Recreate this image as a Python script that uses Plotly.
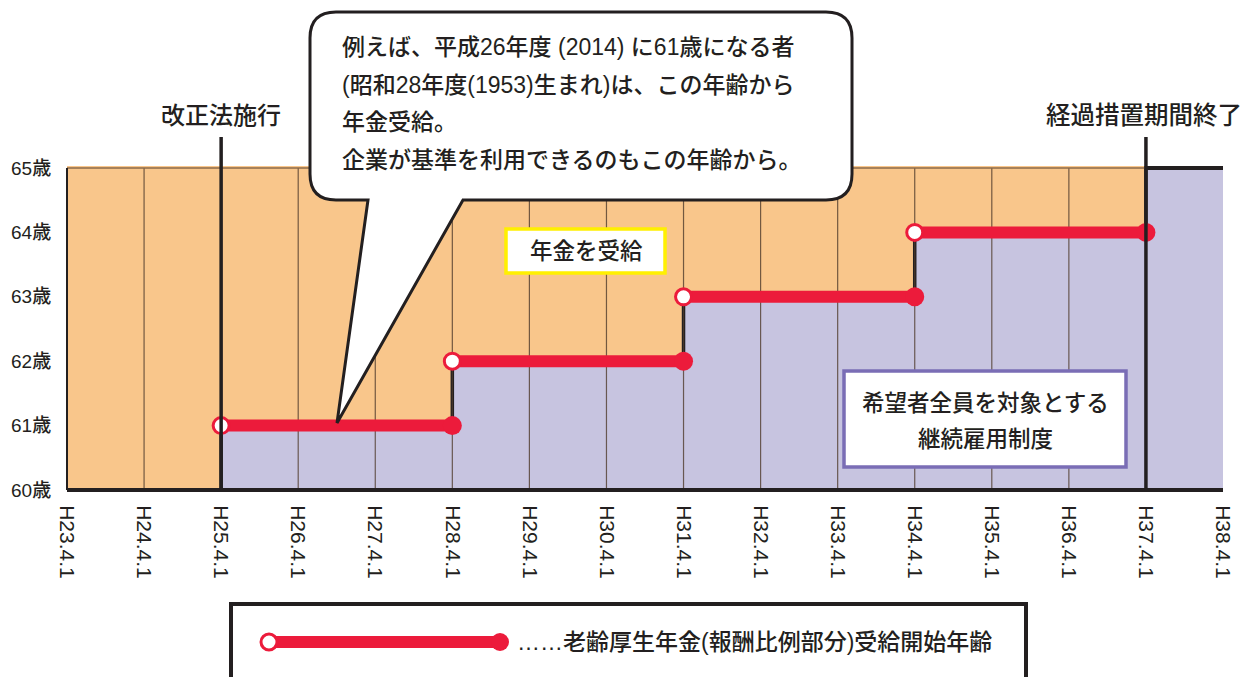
import plotly.graph_objects as go

# ---------------- data ----------------
years = list(range(23, 39))                       # H23 .. H38 (April 1st)
tick_labels = [f"H{y}.4.1" for y in years]
age_ticks = [60, 61, 62, 63, 64, 65]
age_labels = [f"{a}歳" for a in age_ticks]

step_start = [25, 28, 31, 34, 37]                  # start of each pension-age step
step_age = [61, 62, 63, 64, 65]                    # pension start age in that step
seg_end = [28, 31, 34, 37]                         # end of each red segment
seg_age = [61, 62, 63, 64]

# ---------------- layout geometry (page has 8px body margin) ----------------
OFF = 8
FW, FH = 1250 - OFF, 677 - OFF
PL, PR, PT, PB = 67, 1223, 166, 492              # plot area in screen pixels
ML, MR, MT, MB = PL - OFF, FW - (PR - OFF), PT - OFF, FH - (PB - OFF)
W = PR - PL
H = PB - PT
X0, X1 = 23, 38
PYU = 64.4
Y0 = 60 - (H - 5 * PYU) / 2 / PYU
Y1 = Y0 + H / PYU

def px(p):  # screen pixel x -> paper
    return (p - PL) / W

def py(p):  # screen pixel y -> paper
    return (PB - p) / H

def dx(v):  # data x -> paper
    return (v - X0) / (X1 - X0)

def dy(v):  # data y -> paper
    return (v - Y0) / (Y1 - Y0)

ORANGE = "#F9C68B"
PURPLE = "#C7C4E0"
RED = "#EC1B3B"
INK = "#231F20"
FONT = "Liberation Sans, Noto Sans CJK JP"
WEIGHT = 500

fig = go.Figure()

# purple area (continuous employment system) with step outline
sx = [step_start[0]] + step_start + [X1]
sy = [60] + step_age + [step_age[-1]]
fig.add_trace(go.Scatter(x=sx, y=sy, mode="lines", line=dict(shape="hv", color=INK, width=3.5),
                         fill="tozeroy", fillcolor=PURPLE, hoverinfo="skip", showlegend=False))

# thin vertical grid lines
gx, gy = [], []
for y in years[1:-1]:
    if y in (25, 37):
        continue
    gx += [y, y, None]
    gy += [60, 65, None]
fig.add_trace(go.Scatter(x=gx, y=gy, mode="lines", line=dict(color="rgba(80,60,45,0.8)", width=1.2),
                         hoverinfo="skip", showlegend=False))

# red segments
rx, ry = [], []
for s, e, a in zip(step_start[:-1], seg_end, seg_age):
    rx += [s, e, None]
    ry += [a, a, None]
fig.add_trace(go.Scatter(x=rx, y=ry, mode="lines", line=dict(color=RED, width=12),
                         hoverinfo="skip", showlegend=False))
fig.add_trace(go.Scatter(x=seg_end, y=seg_age, mode="markers",
                         marker=dict(color=RED, size=19, line=dict(width=0)),
                         cliponaxis=False, hoverinfo="skip", showlegend=False))
fig.add_trace(go.Scatter(x=step_start[:-1], y=seg_age, mode="markers",
                         marker=dict(color="white", size=16, line=dict(color=RED, width=3)),
                         cliponaxis=False, hoverinfo="skip", showlegend=False))

shapes = []
shapes.append(dict(type="line", xref="paper", yref="paper", x0=0, x1=dx(37), y0=dy(65), y1=dy(65),
                   line=dict(color="#8B6A4A", width=1.5)))
shapes.append(dict(type="line", xref="paper", yref="paper", x0=0, x1=0, y0=dy(60), y1=dy(65),
                   line=dict(color=INK, width=2)))
shapes.append(dict(type="line", xref="paper", yref="paper", x0=0, x1=1, y0=dy(60), y1=dy(60),
                   line=dict(color=INK, width=4)))
for v in (25, 37):
    shapes.append(dict(type="line", xref="paper", yref="paper", x0=dx(v), x1=dx(v), y0=dy(60), y1=py(137),
                       line=dict(color=INK, width=3.5)))
shapes.append(dict(type="line", xref="paper", yref="paper", x0=dx(37), x1=1, y0=dy(65), y1=dy(65),
                   line=dict(color=INK, width=4)))

# callout bubble
def P(a, b):
    return f"{px(a):.5f},{py(b):.5f}"
L_, R_, T_, B_, r = 310, 852, 12, 200, 26
path = (f"M{P(L_+r,T_)} L{P(R_-r,T_)} Q{P(R_,T_)} {P(R_,T_+r)} L{P(R_,B_-r)} Q{P(R_,B_)} {P(R_-r,B_)} "
        f"L{P(463,B_)} L{P(337,423)} L{P(368,B_)} L{P(L_+r,B_)} Q{P(L_,B_)} {P(L_,B_-r)} "
        f"L{P(L_,T_+r)} Q{P(L_,T_)} {P(L_+r,T_)} Z")
shapes.append(dict(type="path", xref="paper", yref="paper", path=path, fillcolor="white",
                   line=dict(color=INK, width=3), layer="above"))

shapes.append(dict(type="rect", xref="paper", yref="paper", x0=px(506), x1=px(665), y0=py(229), y1=py(273),
                   fillcolor="white", line=dict(color="#FFF000", width=3.5), layer="above"))
shapes.append(dict(type="rect", xref="paper", yref="paper", x0=px(844), x1=px(1126), y0=py(371), y1=py(467),
                   fillcolor="white", line=dict(color="#7A6DB5", width=3.5), layer="above"))
shapes.append(dict(type="rect", xref="paper", yref="paper", x0=px(231), x1=px(1026), y0=py(604), y1=py(700),
                   fillcolor="white", line=dict(color=INK, width=4), layer="above"))
shapes.append(dict(type="line", xref="paper", yref="paper", x0=px(269), x1=px(500), y0=py(642), y1=py(642),
                   line=dict(color=RED, width=12), layer="above"))
rr = 9
shapes.append(dict(type="circle", xref="paper", yref="paper", x0=px(500-rr), x1=px(500+rr),
                   y0=py(642+rr), y1=py(642-rr), fillcolor=RED, line=dict(width=0), layer="above"))
rr = 8
shapes.append(dict(type="circle", xref="paper", yref="paper", x0=px(269-rr), x1=px(269+rr),
                   y0=py(642+rr), y1=py(642-rr), fillcolor="white", line=dict(color=RED, width=3), layer="above"))

ann = []
def text(x, y, s, size, anchor="center", yanchor="middle"):
    ann.append(dict(x=px(x), y=py(y), xref="paper", yref="paper", text=s, showarrow=False,
                    xanchor=anchor, yanchor=yanchor,
                    font=dict(family=FONT, size=size, color=INK, weight=WEIGHT)))

callout_lines = ["例えば、平成26年度 (2014) に61歳になる者",
                 "(昭和28年度(1953)生まれ)は、この年齢から",
                 "年金受給。",
                 "企業が基準を利用できるのもこの年齢から。"]
for i, s in enumerate(callout_lines):
    text(340, 47 + i * 37.5, s, 23, anchor="left")

text(221, 115, "改正法施行", 24)
text(1244, 115, "経過措置期間終了", 24.5, anchor="right")
text(586, 251, "年金を受給", 22.5)
text(985, 403, "希望者全員を対象とする", 22.5)
text(985, 439, "継続雇用制度", 22.5)
text(515, 642, "……老齢厚生年金(報酬比例部分)受給開始年齢", 23, anchor="left")

tickfont = dict(family=FONT, size=19, color=INK, weight=WEIGHT)
fig.update_layout(
    width=FW, height=FH,
    margin=dict(l=ML, r=MR, t=MT, b=MB, pad=0, autoexpand=False),
    paper_bgcolor="white", plot_bgcolor=ORANGE,
    shapes=shapes, annotations=ann, showlegend=False,
    xaxis=dict(range=[X0, X1], tickvals=years, ticktext=tick_labels, tickangle=90, automargin=False,
               showgrid=False, zeroline=False, showline=False, ticks="outside", ticklen=8,
               tickcolor="rgba(0,0,0,0)", tickfont=dict(family=FONT, size=21, color=INK), fixedrange=True),
    yaxis=dict(range=[Y0, Y1], tickvals=age_ticks, ticktext=age_labels, automargin=False,
               showgrid=False, zeroline=False, showline=False, ticks="outside", ticklen=11,
               tickcolor="rgba(0,0,0,0)", tickfont=tickfont, fixedrange=True),
)

fig.write_html("out.html")
